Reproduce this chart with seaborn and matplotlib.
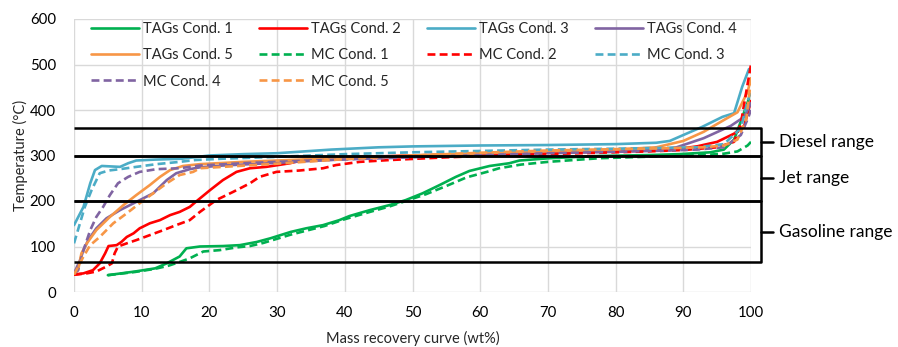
import numpy as np
import pandas as pd
import seaborn as sns
import matplotlib
matplotlib.use("Agg")
import matplotlib.pyplot as plt
from matplotlib.lines import Line2D

# ---------------- data ----------------
tags1_x = [5, 9, 12, 13.7, 15.6, 16.6, 18.6, 22, 24.5, 27, 29, 32, 34.3, 36.8, 39.2, 40.7, 43.7, 46.6, 49, 51.5,
           54, 56.4, 58.4, 61.4, 64.3, 65.8, 70.2, 77.6, 85, 89.4, 94, 96, 97.5, 98.5, 99.7]
tags1_y = [37, 45, 52, 63, 78, 96, 100, 101, 103, 110, 118, 132, 140, 147, 158, 167, 180, 191, 202, 217,
           235, 253, 266, 277, 283, 289, 294, 299, 301, 303, 307, 313, 335, 375, 425]

mc1_x = [5, 9, 12, 14, 15.6, 17.1, 19.1, 21.5, 24, 26, 28, 32, 37, 40, 43.7, 46.6, 49, 52, 55, 58, 61, 62.8,
         66, 70, 77.6, 84, 89, 93, 96, 98, 99.5, 100]
mc1_y = [37, 44, 51, 58, 66, 74, 89, 92, 98, 101, 108, 126, 145, 160, 176, 188, 200, 215, 233, 252, 264, 272,
         280, 286, 294, 297, 299, 301, 304, 309, 322, 330]

tags2_x = [0, 1.4, 2.8, 3.8, 4.6, 5.1, 6.3, 7, 7.8, 8.8, 9.7, 11.2, 12.7, 14.2, 15.6, 17.1, 18.3, 20.1, 22, 24,
           26, 28.4, 31.9, 33.8, 40, 50, 60, 70, 80, 88, 92, 95, 97.5, 99, 100]
tags2_y = [38, 41, 48, 63, 85, 101, 103, 110, 121, 129, 140, 151, 158, 169, 176, 187, 202, 224, 246, 264,
           272, 275, 283, 290, 296, 300, 304, 306, 309, 312, 320, 330, 348, 365, 420]

mc2_x = [0, 1.9, 3.3, 4.8, 5.6, 6, 6.5, 7.8, 9.2, 11.2, 13.2, 15.1, 17.1, 18.6, 21, 23.5, 26, 27.4, 29.9, 33.3,
         36.8, 38.7, 42.2, 46.6, 55, 64.3, 75, 85, 90, 95, 97.5, 98.5, 99.3, 100]
mc2_y = [38, 41, 45, 56, 63, 85, 100, 107, 114, 125, 136, 147, 158, 176, 202, 220, 239, 253, 264, 267,
         272, 279, 286, 290, 296, 301, 305, 309, 312, 318, 330, 370, 440, 500]

tags3_x = [0, 1.4, 2.4, 3.1, 4.1, 6.8, 8, 9.2, 12, 16, 20, 25, 30, 38, 45, 50, 60, 70, 80, 86, 88, 90, 92.8,
           95.8, 97.5, 98.7, 99.7]
tags3_y = [147, 187, 239, 268, 277, 275, 283, 289, 291, 293, 300, 303, 305, 313, 318, 320, 322, 323, 325, 328,
           332, 345, 363, 385, 393, 451, 490]

mc3_x = [0, 1.6, 2.6, 3.8, 5.1, 6.8, 9.2, 12.2, 15.6, 17.9, 22, 30, 40, 50, 60, 70, 80, 88, 92, 96, 98.5,
         99.5, 100]
mc3_y = [107, 187, 224, 261, 267, 270, 275, 281, 286, 290, 293, 297, 303, 307, 310, 313, 315, 317, 318, 325,
         360, 420, 440]

tags4_x = [0, 0.9, 1.4, 2.1, 3.3, 4.8, 6.8, 9.2, 11.7, 13.7, 15.1, 17.1, 18.6, 22, 30, 40, 50, 60, 70, 80, 86,
           89, 93, 97, 99, 100]
tags4_y = [41, 70, 92, 114, 140, 162, 180, 198, 217, 246, 261, 270, 274, 278, 284, 292, 298, 303, 307, 310,
           312, 318, 338, 365, 385, 415]

mc4_x = [0, 0.6, 1.4, 2.4, 3.3, 4.3, 5.3, 6.5, 8, 9.7, 12.2, 15.6, 18.6, 25, 35, 50, 60, 70, 80, 88, 92, 96,
         98.5, 99.5, 100]
mc4_y = [40, 48, 92, 136, 165, 187, 213, 239, 253, 264, 270, 272, 278, 283, 289, 296, 301, 305, 308, 311,
         313, 318, 345, 380, 400]

tags5_x = [0, 0.6, 1.1, 1.9, 3.3, 5.3, 7.3, 9.2, 11.2, 12.7, 14.2, 16.1, 18.6, 25, 35, 50, 60, 70, 80, 86, 90,
           93, 96, 98, 99.5, 100]
tags5_y = [38, 48, 85, 107, 136, 165, 191, 213, 235, 253, 268, 277, 281, 286, 292, 300, 305, 309, 313, 318,
           332, 352, 378, 395, 440, 470]

mc5_x = [0, 1.4, 2.4, 3.8, 5.8, 7.8, 9.7, 11.7, 13.7, 15.6, 17.6, 18.6, 22, 30, 40, 50, 60, 70, 80, 88, 93,
         96, 98, 99.3, 100]
mc5_y = [38, 78, 103, 121, 151, 173, 195, 217, 239, 257, 264, 272, 275, 282, 292, 300, 306, 311, 314, 316,
         318, 322, 335, 380, 465]

series_names = ["TAGs Cond. 1", "TAGs Cond. 2", "TAGs Cond. 3", "TAGs Cond. 4", "TAGs Cond. 5",
                "MC Cond. 1", "MC Cond. 2", "MC Cond. 3", "MC Cond. 4", "MC Cond. 5"]
series_xy = [(tags1_x, tags1_y), (tags2_x, tags2_y), (tags3_x, tags3_y), (tags4_x, tags4_y), (tags5_x, tags5_y),
             (mc1_x, mc1_y), (mc2_x, mc2_y), (mc3_x, mc3_y), (mc4_x, mc4_y), (mc5_x, mc5_y)]

ranges = [("Diesel range", 300, 360), ("Jet range", 200, 300), ("Gasoline range", 65, 200)]

x_ticks = list(range(0, 101, 10))
y_ticks = list(range(0, 601, 100))

# ---------------- style ----------------
sns.set_theme(style="white")
plt.rcParams["font.family"] = ["Lato", "DejaVu Sans"]

palette = ["#00B050", "#FF0000", "#4BACC6", "#8064A2", "#F79646"]
DASH = (3.0, 1.6)

fig = plt.figure(figsize=(8.98, 3.47), dpi=100)
ax = fig.add_axes([74 / 898, 1 - 292 / 347, 677 / 898, (292 - 19) / 347])

handles = {}
for i, (name, (xs, ys)) in enumerate(zip(series_names, series_xy)):
    col = palette[i % 5]
    dashed = name.startswith("MC")
    df = pd.DataFrame({"x": xs, "y": ys})
    sns.lineplot(data=df, x="x", y="y", ax=ax, color=col, lw=1.9, sort=False, estimator=None,
                 legend=False, zorder=3 + i)
    ln = ax.lines[-1]
    if dashed:
        ln.set_dashes(DASH)
    ln.set_solid_joinstyle("round")
    h = Line2D([], [], color=col, lw=1.9)
    if dashed:
        h.set_dashes(DASH)
    handles[name] = h

# range brackets
xr = 101.55
for label, lo, hi in ranges:
    ax.plot([0, xr, xr, 0], [hi, hi, lo, lo], color="black", lw=1.8, clip_on=False, zorder=20,
            solid_joinstyle="round", solid_capstyle="butt")
    mid = (lo + hi) / 2
    ax.plot([xr, xr + 1.7], [mid, mid], color="black", lw=1.8, clip_on=False, zorder=20)
    ax.text(104.2, mid, label, fontsize=12.5, va="center", ha="left", color="black")

ax.set_xlim(0, 100)
ax.set_ylim(0, 600)
ax.set_xticks(x_ticks)
ax.set_yticks(y_ticks)
ax.grid(True, color="#D9D9D9", lw=1.0)
ax.set_axisbelow(True)
for s in ax.spines.values():
    s.set_visible(False)
ax.tick_params(axis="both", length=0, labelsize=10.8, colors="#000000")
ax.tick_params(axis="y", pad=13)
ax.tick_params(axis="x", pad=10)
ax.set_xlabel("Mass recovery curve (wt%)", fontsize=10.5, labelpad=8)
ax.set_ylabel("Temperature (°C)", fontsize=10.5, labelpad=1)

order = ["TAGs Cond. 1", "TAGs Cond. 5", "MC Cond. 4",
         "TAGs Cond. 2", "MC Cond. 1", "MC Cond. 5",
         "TAGs Cond. 3", "MC Cond. 2",
         "TAGs Cond. 4", "MC Cond. 3"]
leg = ax.legend([handles[n] for n in order], order, ncol=4, loc="upper left",
                bbox_to_anchor=(17 / 677, 1.0 - 3 / 273), frameon=False, borderpad=0, borderaxespad=0,
                fontsize=10.5, handlelength=3.3, handletextpad=0.25, columnspacing=1.82,
                labelspacing=0.84)
leg.set_zorder(30)

fig.savefig("out.png", dpi=100)
